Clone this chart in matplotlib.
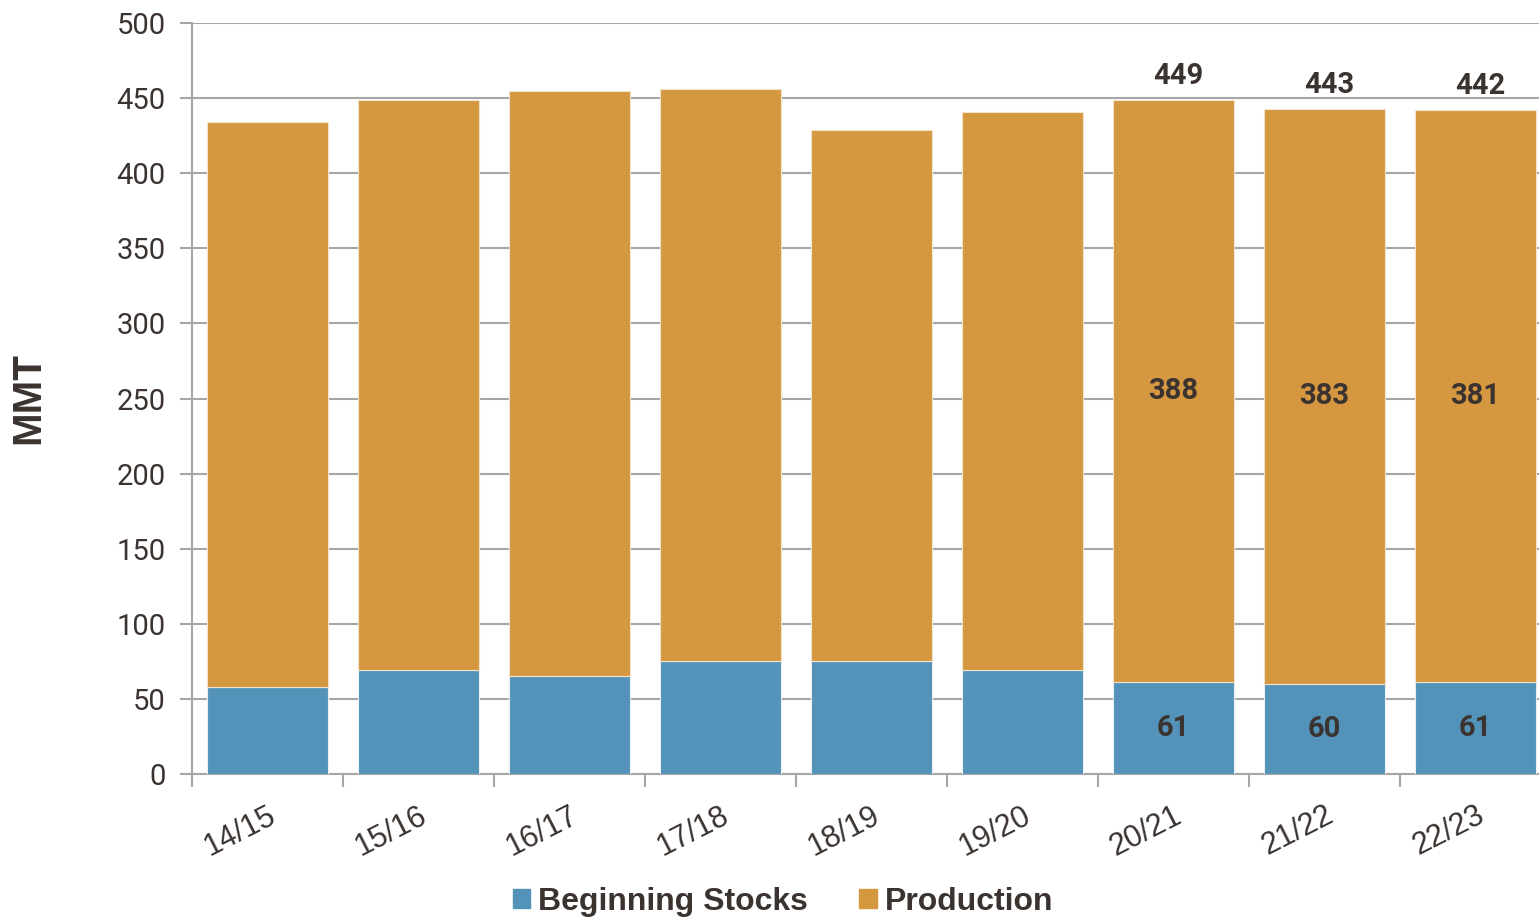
import matplotlib
matplotlib.use("Agg")
import matplotlib.pyplot as plt
from matplotlib.ticker import MultipleLocator, FixedLocator
from matplotlib.patches import Patch
import numpy as np

# data
seasons = ["14/15", "15/16", "16/17", "17/18", "18/19", "19/20", "20/21", "21/22", "22/23"]
beginning_stocks = [58, 69, 65, 75, 75, 69, 61, 60, 61]
production = [376, 380, 390, 381, 354, 372, 388, 383, 381]
totals = [434, 449, 455, 456, 429, 441, 449, 443, 442]

# only the last three seasons carry labels
labelled = [6, 7, 8]

BLUE = "#5393BA"
ORANGE = "#D59740"
TEXT = "#3A3330"
GRID = "#A6A6A6"
narrow = ["Roboto", "DejaVu Sans"]
wide = ["Liberation Sans", "DejaVu Sans"]

plt.rcParams["font.family"] = narrow

fig = plt.figure(figsize=(15.39, 9.18), dpi=100)
ax = fig.add_axes([192 / 1539, 144 / 918, 1359 / 1539, 751 / 918])

x = np.arange(len(seasons))
ax.bar(x, beginning_stocks, width=0.8, color=BLUE, edgecolor="#E8EEF2", linewidth=0.8, zorder=3)
ax.bar(x, production, width=0.8, bottom=beginning_stocks, color=ORANGE,
       edgecolor="#F3E3CC", linewidth=0.8, zorder=3)

for i in labelled:
    ax.text(x[i], beginning_stocks[i] / 2, str(beginning_stocks[i]), ha="center", va="center",
            fontsize=21, fontweight="bold", color=TEXT, zorder=4)
    ax.text(x[i], beginning_stocks[i] + production[i] / 2, str(production[i]), ha="center",
            va="center", fontsize=21, fontweight="bold", color=TEXT, zorder=4)
    ax.text(x[i] + 0.03, totals[i] + 16, str(totals[i]), ha="center", va="center",
            fontsize=21, fontweight="bold", color=TEXT, zorder=4)

ax.set_xlim(-0.5, len(seasons) - 0.5)
ax.set_ylim(0, 500)
ax.yaxis.set_major_locator(MultipleLocator(50))
ax.grid(axis="y", color=GRID, linewidth=1.5, zorder=0)
ax.set_axisbelow(True)

for s in ["top", "right"]:
    ax.spines[s].set_visible(False)
for s in ["left", "bottom"]:
    ax.spines[s].set_color(GRID)
    ax.spines[s].set_linewidth(1.5)

ax.tick_params(axis="y", length=9, width=1.5, color=GRID, labelsize=21, labelcolor=TEXT, pad=10)

# category boundaries get the tick marks, labels sit at centres
ax.xaxis.set_minor_locator(FixedLocator(np.arange(-0.5, len(seasons), 1.0)))
ax.tick_params(axis="x", which="minor", length=9, width=1.5, color=GRID)
ax.set_xticks(x)
ax.set_xticklabels(seasons, rotation=27, ha="right", rotation_mode="anchor",
                   fontfamily=wide, fontsize=22)
ax.tick_params(axis="x", which="major", length=0, labelcolor=TEXT, pad=19)

ax.set_ylabel("MMT", fontsize=29, fontweight="bold", color=TEXT, fontfamily=wide, labelpad=50)

handles = [Patch(color=BLUE, label="Beginning Stocks"), Patch(color=ORANGE, label="Production")]
fig.legend(handles=handles, loc="center", bbox_to_anchor=(783 / 1539, 1 - 902 / 918), ncol=2,
           frameon=False, handlelength=0.55, handleheight=0.55, handletextpad=0.25,
           columnspacing=1.6, prop={"family": wide, "weight": "bold", "size": 23},
           labelcolor=TEXT)

fig.savefig("out.png", dpi=100)
